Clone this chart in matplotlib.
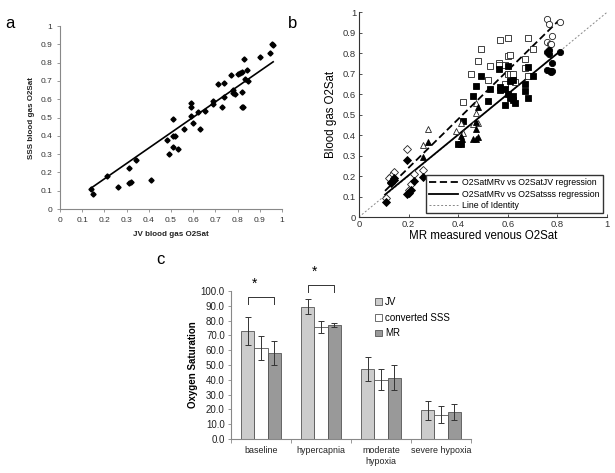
import numpy as np
import matplotlib
matplotlib.use("Agg")
import matplotlib.pyplot as plt
from matplotlib.lines import Line2D
from matplotlib.patches import Patch

plt.rcParams['font.family'] = ['Liberation Sans', 'DejaVu Sans']

# ---------------- Panel a data ----------------
a_jv = [0.14, 0.15, 0.21, 0.26, 0.31, 0.31, 0.32, 0.34, 0.41, 0.48, 0.49, 0.51, 0.51, 0.52,
        0.51, 0.53, 0.56, 0.59, 0.59, 0.59, 0.60, 0.62, 0.63, 0.655, 0.69, 0.69, 0.71, 0.73,
        0.74, 0.74, 0.77, 0.78, 0.78, 0.79, 0.80, 0.81, 0.82, 0.82, 0.82, 0.825, 0.83, 0.84,
        0.835, 0.845, 0.90, 0.945, 0.955, 0.96]
a_sss = [0.11, 0.08, 0.18, 0.12, 0.225, 0.14, 0.15, 0.27, 0.16, 0.38, 0.30, 0.49, 0.40, 0.40,
         0.34, 0.33, 0.44, 0.58, 0.555, 0.51, 0.47, 0.53, 0.44, 0.535, 0.59, 0.575, 0.685, 0.56,
         0.69, 0.61, 0.73, 0.65, 0.635, 0.63, 0.74, 0.745, 0.75, 0.64, 0.555, 0.555, 0.82, 0.76,
         0.71, 0.70, 0.83, 0.855, 0.90, 0.895]
a_fit = (0.841, -0.003)          # slope, intercept of the trend line
a_fit_range = (0.14, 0.96)

# ---------------- Panel b data ----------------
circ_open_x = [0.76, 0.765, 0.81, 0.78, 0.76, 0.77, 0.775]
circ_open_y = [0.965, 0.945, 0.955, 0.885, 0.855, 0.845, 0.845]
circ_fill_x = [0.765, 0.76, 0.765, 0.81, 0.78, 0.76, 0.77, 0.775, 0.78]
circ_fill_y = [0.815, 0.805, 0.795, 0.805, 0.75, 0.72, 0.715, 0.71, 0.715]

sq_open_x = [0.49, 0.57, 0.60, 0.68, 0.48, 0.53, 0.565, 0.565, 0.60, 0.61, 0.67, 0.70, 0.45,
             0.52, 0.59, 0.60, 0.61, 0.62, 0.63, 0.67, 0.68, 0.42, 0.59]
sq_open_y = [0.82, 0.865, 0.875, 0.875, 0.76, 0.74, 0.75, 0.745, 0.785, 0.79, 0.77, 0.82, 0.70,
             0.67, 0.745, 0.70, 0.70, 0.70, 0.66, 0.73, 0.69, 0.56, 0.65]
sq_fill_x = [0.565, 0.60, 0.49, 0.68, 0.47, 0.57, 0.57, 0.59, 0.61, 0.62, 0.67, 0.70, 0.46,
             0.53, 0.52, 0.60, 0.61, 0.62, 0.62, 0.63, 0.59, 0.67, 0.68, 0.42, 0.40, 0.41]
sq_fill_y = [0.725, 0.74, 0.69, 0.735, 0.64, 0.635, 0.62, 0.625, 0.665, 0.67, 0.65, 0.69, 0.59,
             0.625, 0.565, 0.60, 0.58, 0.59, 0.57, 0.555, 0.545, 0.615, 0.58, 0.47, 0.355, 0.355]

tri_open_x = [0.28, 0.26, 0.47, 0.47, 0.48, 0.46, 0.41, 0.39, 0.42]
tri_open_y = [0.43, 0.35, 0.555, 0.51, 0.46, 0.455, 0.46, 0.42, 0.41]
tri_fill_x = [0.28, 0.26, 0.48, 0.47, 0.47, 0.41, 0.46, 0.48, 0.47, 0.415]
tri_fill_y = [0.365, 0.295, 0.535, 0.465, 0.43, 0.395, 0.38, 0.39, 0.38, 0.38]

dia_open_x = [0.195, 0.14, 0.13, 0.12, 0.22, 0.26, 0.20, 0.11, 0.21]
dia_open_y = [0.33, 0.22, 0.20, 0.19, 0.21, 0.23, 0.13, 0.095, 0.16]
dia_fill_x = [0.195, 0.13, 0.14, 0.13, 0.14, 0.11, 0.195, 0.20, 0.21, 0.22, 0.26]
dia_fill_y = [0.28, 0.17, 0.18, 0.165, 0.19, 0.075, 0.11, 0.115, 0.13, 0.175, 0.195]

b_fit_jv = (1.188, 0.003)
b_fit_sss = (0.993, 0.005)
b_fit_range = (0.105, 0.805)
b_legend = ['O2SatMRv vs O2SatJV regression', 'O2SatMRv vs O2Satsss regression', 'Line of Identity']

# ---------------- Panel c data ----------------
c_categories = ['baseline', 'hypercapnia', 'moderate\nhypoxia', 'severe hypoxia']
c_series = ['JV', 'converted SSS', 'MR']
c_jv = [73.0, 89.5, 47.5, 19.5]
c_jv_err = [9.5, 4.8, 8.0, 6.5]
c_sss = [61.5, 75.5, 40.0, 16.5]
c_sss_err = [8.0, 4.0, 7.0, 5.5]
c_mr = [58.0, 77.0, 41.5, 18.0]
c_mr_err = [8.0, 1.5, 8.5, 5.5]
c_yticks = [0, 10, 20, 30, 40, 50, 60, 70, 80, 90, 100]

fig = plt.figure(figsize=(6.15, 4.73), dpi=100)

# ---------------- Panel a ----------------
axa = fig.add_axes([0.0976, 0.558, 0.361, 0.387])
axa.plot(a_jv, a_sss, linestyle='none', marker='D', ms=2.6, color='black')
xf = np.array(a_fit_range)
axa.plot(xf, a_fit[0] * xf + a_fit[1], color='black', lw=1.2)
axa.set_xlim(0, 1)
axa.set_ylim(0, 1)
axa.set_xticks(np.arange(0, 1.01, 0.1))
axa.set_yticks(np.arange(0, 1.01, 0.1))
axa.set_xticklabels(['0', '0.1', '0.2', '0.3', '0.4', '0.5', '0.6', '0.7', '0.8', '0.9', '1'])
axa.set_yticklabels(['0', '0.1', '0.2', '0.3', '0.4', '0.5', '0.6', '0.7', '0.8', '0.9', '1'])
for s in ['top', 'right']:
    axa.spines[s].set_visible(False)
for s in ['left', 'bottom']:
    axa.spines[s].set_color('#888888')
    axa.spines[s].set_linewidth(0.8)
axa.tick_params(labelsize=6, colors='#888888', length=2.5, width=0.6, labelcolor='#333333', pad=3)
axa.set_xlabel('JV blood gas O2Sat', fontsize=5.8, fontweight='bold', labelpad=5, color='#222222')
axa.set_ylabel('SSS blood gas O2Sat', fontsize=5.8, fontweight='bold', labelpad=4, color='#222222')

# ---------------- Panel b ----------------
axb = fig.add_axes([0.5837, 0.5412, 0.4033, 0.4328])
axb.plot([0, 1], [0, 1], linestyle=(0, (2, 2)), color='#888888', lw=0.7)
xb = np.array(b_fit_range)
axb.plot(xb, b_fit_jv[0] * xb + b_fit_jv[1], linestyle=(0, (4, 2)), color='black', lw=1.3)
axb.plot(xb, b_fit_sss[0] * xb + b_fit_sss[1], linestyle='-', color='black', lw=1.3)
ms = 4.5
mew = 0.6
groups = [('o', circ_open_x, circ_open_y, circ_fill_x, circ_fill_y),
          ('s', sq_open_x, sq_open_y, sq_fill_x, sq_fill_y),
          ('^', tri_open_x, tri_open_y, tri_fill_x, tri_fill_y),
          ('D', dia_open_x, dia_open_y, dia_fill_x, dia_fill_y)]
for mk, ox, oy, fx, fy in groups:
    size = ms * (0.85 if mk == 'D' else 1.0)
    axb.plot(ox, oy, linestyle='none', marker=mk, ms=size, mfc='white', mec='#222222', mew=mew)
    axb.plot(fx, fy, linestyle='none', marker=mk, ms=size, mfc='black', mec='black', mew=mew)
axb.set_xlim(0, 1)
axb.set_ylim(0, 1)
axb.set_xticks([0, 0.2, 0.4, 0.6, 0.8, 1])
axb.set_xticklabels(['0', '0.2', '0.4', '0.6', '0.8', '1'])
axb.set_yticks(np.arange(0, 1.01, 0.1))
axb.set_yticklabels(['0', '0.1', '0.2', '0.3', '0.4', '0.5', '0.6', '0.7', '0.8', '0.9', '1'])
for s in ['top', 'right']:
    axb.spines[s].set_visible(False)
for s in ['left', 'bottom']:
    axb.spines[s].set_color('#333333')
    axb.spines[s].set_linewidth(0.8)
axb.tick_params(labelsize=6.8, direction='in', length=2, width=0.6, colors='#333333', pad=2)
axb.set_xlabel('MR measured venous O2Sat', fontsize=8.3, labelpad=1)
axb.set_ylabel('Blood gas O2Sat', fontsize=8.3, labelpad=4)
handles = [Line2D([], [], color='black', lw=1.3, linestyle=(0, (4, 2))),
           Line2D([], [], color='black', lw=1.3, linestyle='-'),
           Line2D([], [], color='#888888', lw=0.7, linestyle=(0, (2, 2)))]
axb.legend(handles, b_legend, loc='lower right', bbox_to_anchor=(0.984, 0.02), borderaxespad=0,
           fontsize=6.3, frameon=True, fancybox=False, edgecolor='#333333', framealpha=1,
           borderpad=0.35, labelspacing=0.25, handlelength=3.3, handletextpad=0.5)

# ---------------- Panel c ----------------
axc = fig.add_axes([0.3756, 0.0719, 0.390, 0.3129])
x = np.arange(len(c_categories))
w = 0.222
cols = ['#cccccc', '#ffffff', '#999999']
vals = [c_jv, c_sss, c_mr]
errs = [c_jv_err, c_sss_err, c_mr_err]
for i in range(3):
    axc.bar(x + (i - 1) * w, vals[i], width=w, color=cols[i], edgecolor='#555555', linewidth=0.6,
            yerr=errs[i], error_kw=dict(ecolor='#333333', elinewidth=0.7, capsize=2.2, capthick=0.7),
            label=c_series[i])
axc.set_xlim(-0.5, len(c_categories) - 0.5)
axc.set_ylim(0, 100)
axc.set_yticks(c_yticks)
axc.set_yticklabels(['%.1f' % v for v in c_yticks])
axc.set_xticks(x)
axc.set_xticklabels(c_categories, fontsize=6.4, linespacing=1.3, color='#222222', va='top')
axc.set_xticks(np.arange(-0.5, len(c_categories), 1.0), minor=True)
axc.tick_params(axis='x', which='major', length=0, pad=5)
axc.tick_params(axis='x', which='minor', length=3, color='#888888', width=0.6)
axc.tick_params(axis='y', labelsize=7, length=2.5, color='#888888', width=0.6, labelcolor='#222222', pad=2)
for s in ['top', 'right']:
    axc.spines[s].set_visible(False)
for s in ['left', 'bottom']:
    axc.spines[s].set_color('#888888')
    axc.spines[s].set_linewidth(0.8)
axc.set_ylabel('Oxygen Saturation', fontsize=7, fontweight='bold', labelpad=2)
# significance brackets
for gi, ybr, ystar in [(0, 96, 105), (1, 104, 113)]:
    xl, xr = x[gi] - w, x[gi] + w
    axc.plot([xl, xl, xr, xr], [ybr - 4.5, ybr, ybr, ybr - 4.5], color='#333333', lw=0.7, clip_on=False)
    axc.text(x[gi] - w * 0.5, ystar, '*', ha='center', va='center', fontsize=10, clip_on=False)
lh = [Patch(facecolor=cols[i], edgecolor='#555555', linewidth=0.6) for i in range(3)]
axc.legend(lh, c_series, loc='upper left', bbox_to_anchor=(0.565, 1.02), fontsize=7, frameon=False,
           handlelength=0.7, handleheight=0.7, handletextpad=0.3, labelspacing=0.6)

# panel letters
fig.text(9.5 / 615, 1 - 23 / 473, 'a', fontsize=12, ha='center', va='center')
fig.text(292.5 / 615, 1 - 23 / 473, 'b', fontsize=12, ha='center', va='center')
fig.text(160.5 / 615, 1 - 259 / 473, 'c', fontsize=12, ha='center', va='center')

fig.savefig('out.png', dpi=100)
